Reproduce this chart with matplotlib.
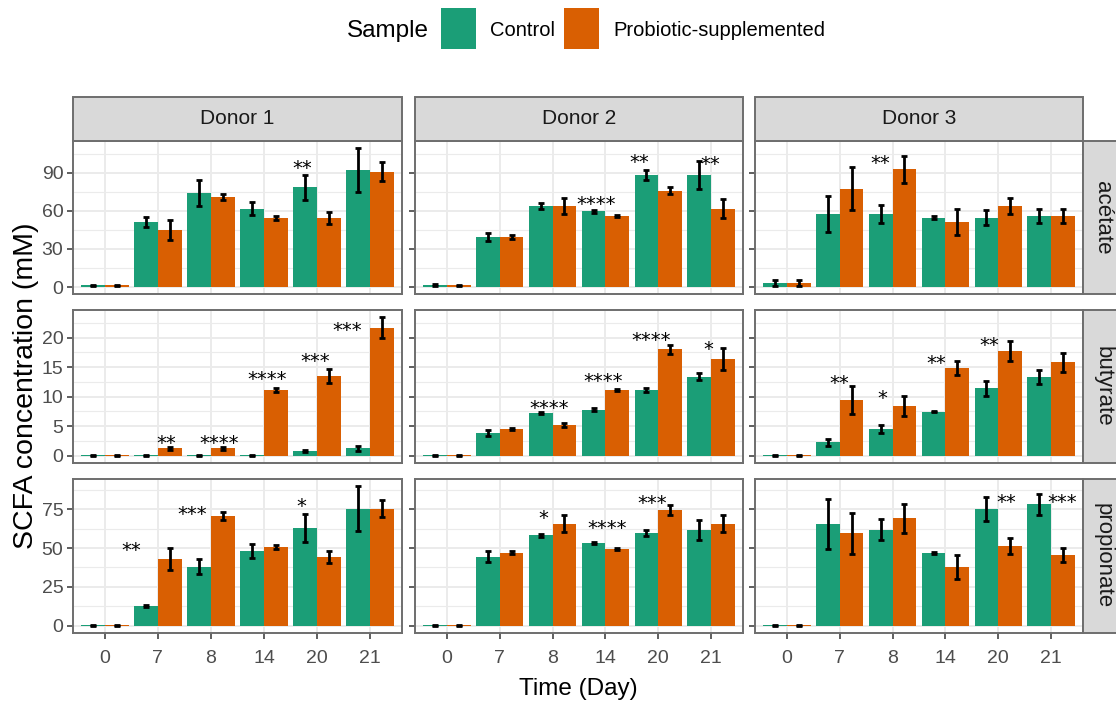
import numpy as np
import matplotlib
matplotlib.use('Agg')
import matplotlib.pyplot as plt
from matplotlib.patches import Rectangle
from matplotlib import transforms

# ---------------------------------------------------------------- data
days = ['0', '7', '8', '14', '20', '21']
donors = ['Donor 1', 'Donor 2', 'Donor 3']
acids = ['acétate', 'butyrate', 'propionate']
samples = ['Control', 'Probiotic-supplemented']

# one list per donor, values per day
acetate_control = [[1.5, 51.2, 74.0, 61.8, 78.4, 92.3],
                   [1.5, 39.3, 63.6, 59.5, 87.9, 87.9],
                   [3.0, 57.4, 57.4, 54.6, 54.6, 55.9]]
acetate_control_sd = [[0.5, 3.6, 10.2, 5.0, 10.0, 17.2],
                      [0.6, 3.0, 2.5, 1.0, 3.9, 11.0],
                      [2.2, 14.2, 6.9, 1.0, 6.0, 5.7]]
acetate_probiotic = [[1.5, 45.0, 71.1, 54.3, 54.3, 90.8],
                     [1.5, 39.3, 63.6, 55.9, 75.8, 61.8],
                     [3.0, 77.3, 92.6, 51.2, 63.6, 55.9]]
acetate_probiotic_sd = [[0.5, 8.0, 2.5, 1.5, 4.8, 7.4],
                        [0.5, 1.5, 6.3, 1.0, 2.6, 7.8],
                        [2.2, 17.0, 10.6, 10.3, 6.3, 5.6]]

butyrate_control = [[0.05, 0.05, 0.05, 0.05, 0.85, 1.24],
                    [0.05, 3.83, 7.2, 7.83, 11.15, 13.4],
                    [0.05, 2.25, 4.5, 7.44, 11.4, 13.4]]
butyrate_control_sd = [[0.1, 0.1, 0.1, 0.1, 0.2, 0.4],
                       [0.1, 0.5, 0.2, 0.2, 0.35, 0.6],
                       [0.1, 0.65, 0.7, 0.1, 1.27, 1.2]]
butyrate_probiotic = [[0.05, 1.24, 1.24, 11.15, 13.5, 21.7],
                      [0.05, 4.5, 5.2, 11.15, 18.0, 16.45],
                      [0.05, 9.46, 8.45, 14.8, 17.8, 15.8]]
butyrate_probiotic_sd = [[0.1, 0.3, 0.2, 0.3, 1.2, 1.8],
                         [0.1, 0.2, 0.4, 0.2, 0.75, 1.85],
                         [0.1, 2.4, 1.75, 1.2, 1.7, 1.6]]

propionate_control = [[0.2, 12.8, 37.9, 47.9, 62.9, 75.4],
                      [0.2, 44.3, 58.2, 53.3, 59.7, 61.8],
                      [0.2, 65.6, 61.8, 46.9, 75.2, 78.2]]
propionate_control_sd = [[0.4, 0.8, 4.8, 4.6, 8.8, 14.6],
                         [0.4, 3.5, 1.0, 0.7, 2.1, 6.6],
                         [0.4, 16.2, 6.8, 0.8, 7.5, 6.9]]
propionate_probiotic = [[0.2, 43.0, 70.7, 50.7, 44.3, 75.4],
                        [0.2, 46.9, 65.6, 49.4, 74.6, 65.6],
                        [0.2, 59.7, 69.3, 37.9, 51.6, 45.4]]
propionate_probiotic_sd = [[0.4, 7.2, 2.5, 1.0, 3.8, 5.5],
                           [0.4, 1.0, 5.4, 0.7, 3.0, 5.5],
                           [0.4, 13.2, 9.4, 7.8, 5.1, 4.6]]

y_breaks = [[0, 30, 60, 90], [0, 5, 10, 15, 20], [0, 25, 50, 75]]

# significance labels: (acid row, donor col, day index, label, y, x shift)
stars = [(0, 0, 4, '**', 97.7, -0.28),
         (0, 1, 3, '****', 69.3, -0.17),
         (0, 1, 4, '**', 102.7, -0.37),
         (0, 1, 5, '**', 100.9, -0.02),
         (0, 2, 2, '**', 102.0, -0.23),
         (1, 0, 1, '**', 3.0, 0.15),
         (1, 0, 2, '****', 3.0, 0.15),
         (1, 0, 3, '****', 13.8, 0.06),
         (1, 0, 4, '***', 16.9, -0.04),
         (1, 0, 5, '***', 22.1, -0.43),
         (1, 1, 2, '****', 9.0, -0.07),
         (1, 1, 3, '****', 13.5, -0.05),
         (1, 1, 4, '****', 20.4, -0.14),
         (1, 1, 5, '*', 19.0, -0.05),
         (1, 2, 1, '**', 13.2, 0.0),
         (1, 2, 2, '*', 10.6, -0.2),
         (1, 2, 3, '**', 16.5, -0.17),
         (1, 2, 4, '**', 19.7, -0.18),
         (2, 0, 1, '**', 52.2, -0.5),
         (2, 0, 2, '***', 75.0, -0.36),
         (2, 0, 4, '*', 80.5, -0.3),
         (2, 1, 2, '*', 72.4, -0.17),
         (2, 1, 3, '****', 66.0, 0.04),
         (2, 1, 4, '***', 82.6, -0.11),
         (2, 2, 4, '**', 82.7, 0.15),
         (2, 2, 5, '***', 82.7, 0.2)]

control = [acetate_control, butyrate_control, propionate_control]
control_sd = [acetate_control_sd, butyrate_control_sd, propionate_control_sd]
probiotic = [acetate_probiotic, butyrate_probiotic, propionate_probiotic]
probiotic_sd = [acetate_probiotic_sd, butyrate_probiotic_sd, propionate_probiotic_sd]

# ---------------------------------------------------------------- style
GREEN = '#1B9E77'
ORANGE = '#D95F02'
GRID = '#EBEBEB'
BORDER = '#6E6E6E'
STRIP = '#D9D9D9'

plt.rcParams['font.family'] = ['Liberation Sans', 'DejaVu Sans']

W, H = 1116, 704
fig = plt.figure(figsize=(W / 100, H / 100), dpi=100)


def fx(px):
    return px / W


def fy(py):
    return 1 - py / H


col_px = [(73, 402), (415, 743), (755, 1083)]
row_px = [(141, 294), (310, 463), (479, 633)]

x = np.arange(len(days))
axes = {}
for r in range(3):
    # shared y scale per row (facet_grid free_y), 5% expansion
    hi = max(np.max(np.array(control[r]) + np.array(control_sd[r])),
             np.max(np.array(probiotic[r]) + np.array(probiotic_sd[r])))
    lo = min(0, np.min(np.array(control[r]) - np.array(control_sd[r])),
             np.min(np.array(probiotic[r]) - np.array(probiotic_sd[r])))
    pad = 0.05 * (hi - lo)
    ylim = (lo - pad, hi + pad)
    brk = y_breaks[r]
    step = brk[1] - brk[0]
    minor = [b + step / 2 for b in [brk[0] - step] + brk]
    minor = [m for m in minor if ylim[0] < m < ylim[1]]

    for c in range(3):
        x0, x1 = col_px[c]
        y0, y1 = row_px[r]
        ax = fig.add_axes([fx(x0), fy(y1), fx(x1) - fx(x0), fy(y0) - fy(y1)])
        axes[(r, c)] = ax
        ax.bar(x - 0.225, control[r][c], 0.45, color=GREEN, zorder=2)
        ax.bar(x + 0.225, probiotic[r][c], 0.45, color=ORANGE, zorder=2)
        ax.errorbar(x - 0.225, control[r][c], yerr=control_sd[r][c], fmt='none',
                    ecolor='black', elinewidth=2.0, capsize=2.3, capthick=2.0, zorder=3)
        ax.errorbar(x + 0.225, probiotic[r][c], yerr=probiotic_sd[r][c], fmt='none',
                    ecolor='black', elinewidth=2.0, capsize=2.3, capthick=2.0, zorder=3)

        ax.set_xlim(-0.6, len(days) - 0.4)
        ax.set_ylim(*ylim)
        ax.set_xticks(x)
        ax.set_yticks(brk)
        ax.set_yticks(minor, minor=True)
        ax.set_axisbelow(True)
        ax.grid(which='major', color=GRID, lw=1.4)
        ax.grid(which='minor', axis='y', color=GRID, lw=0.8)
        for s in ax.spines.values():
            s.set_color(BORDER)
            s.set_linewidth(1.4)
            s.set_zorder(5)
        ax.tick_params(which='major', length=4, width=1.2, color='#444444',
                       labelsize=14, labelcolor='#4D4D4D', pad=3)
        ax.tick_params(axis='x', pad=8)
        ax.tick_params(which='minor', length=0)
        if c == 0:
            ax.set_yticklabels([str(b) for b in brk])
        else:
            ax.set_yticklabels([])
        if r == 2:
            ax.set_xticklabels(days)
        else:
            ax.set_xticklabels([])
            ax.tick_params(axis='x', length=0)

# significance stars
for r, c, d, lab, yv, dx in stars:
    ax = axes[(r, c)]
    tr = transforms.offset_copy(ax.transData, fig=fig, y=-8, units='points')
    ax.text(x[d] + dx, yv, lab, transform=tr, ha='center', va='baseline',
            fontsize=14, family='DejaVu Sans', color='black', zorder=6)

# strips on top (donors)
for c, donor in enumerate(donors):
    x0, x1 = col_px[c]
    fig.add_artist(Rectangle((fx(x0), fy(141)), fx(x1) - fx(x0), fy(97) - fy(141),
                             transform=fig.transFigure, facecolor=STRIP,
                             edgecolor=BORDER, lw=1.4))
    fig.text(fx((x0 + x1) / 2), fy(119), donor, ha='center', va='center',
             fontsize=15, color='#1A1A1A')

# strips on the right (acids)
for r, acid in enumerate(acids):
    y0, y1 = row_px[r]
    fig.add_artist(Rectangle((fx(1083), fy(y1)), fx(1127) - fx(1083), fy(y0) - fy(y1),
                             transform=fig.transFigure, facecolor=STRIP,
                             edgecolor=BORDER, lw=1.4))
    fig.text(fx(1103), fy((y0 + y1) / 2), acid, ha='center', va='center',
             rotation=-90, fontsize=16, color='#1A1A1A')

# axis titles
fig.text(fx(578), fy(689), 'Time (Day)', ha='center', va='center', fontsize=17.5)
fig.text(fx(26), fy(386), 'SCFA concentration (mM)', ha='center', va='center',
         rotation=90, fontsize=20.5)

# legend
fig.text(fx(347), fy(31), 'Sample', ha='left', va='center', fontsize=17.5)
for (kx, tx), col, lab in zip([(441, 490), (564, 613)], [GREEN, ORANGE], samples):
    fig.add_artist(Rectangle((fx(kx), fy(49)), fx(35), fy(8) - fy(49),
                             transform=fig.transFigure, facecolor=col, edgecolor='none'))
    fig.text(fx(tx), fy(31), lab, ha='left', va='center', fontsize=14.5)

fig.savefig('out.png', dpi=100)
